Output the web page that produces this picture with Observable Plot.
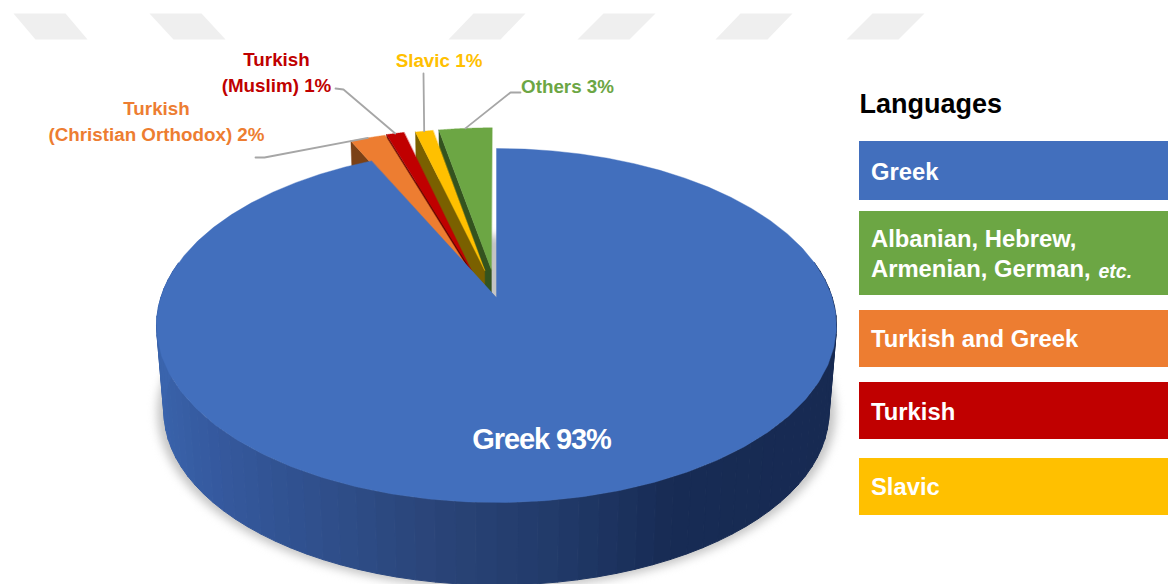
<!DOCTYPE html>
<html>
<head>
<meta charset="utf-8">
<script src="https://cdn.jsdelivr.net/npm/d3@7"></script>
<script src="https://cdn.jsdelivr.net/npm/@observablehq/plot@0.6"></script>
<style>
  html, body { margin: 0; padding: 0; background: #fff; }
  svg { display: block; }
  .hero-label text { letter-spacing: -1.1px; }
</style>
</head>
<body>
<div id="chart"></div>
<script>
// Communities and their share of the population
const sliceNames  = ["Greek", "Turkish (Christian Orthodox)", "Turkish (Muslim)", "Slavic", "Others"];
const sliceValues = [93, 2, 1, 1, 3];
const sliceFaces  = ["#426fbd", "#ed7d31", "#c00000", "#ffc000", "#6ca644"];
const sliceWalls  = ["#264478", "#7b4116", "#5e0000", "#7a6000", "#33531f"];
const sliceExplode = [0, 0.165, 0.165, 0.165, 0.165];
const sliceDrift   = [0, -0.02, -0.03, 0, 0];

// Callout text for the small slices
const calloutLines   = [["Turkish", "(Christian Orthodox) 2%"], ["Turkish", "(Muslim) 1%"], ["Slavic 1%"], ["Others 3%"]];
const calloutCenters = [156, 276, 438.5, 567];
const calloutBase    = [140, 91, 66, 92];
const leaderStart    = [[255, 157], [335, 88], [423, 73], [520, 92]];
const leaderElbow    = [[264, 157], [343, 89], [423, 74], [510, 92]];

// Legend
const legendTitle  = "Languages";
const legendLabels = [["Greek"], ["Albanian, Hebrew,", "Armenian, German,"], ["Turkish and Greek"], ["Turkish"], ["Slavic"]];
const legendColors = ["#426fbd", "#6ca644", "#ed7d31", "#c00000", "#ffc000"];
const legendTops    = [141, 211, 310, 382, 458];
const legendBottoms = [200, 295, 367, 439, 515];
const legendBases   = [[179], [246.5, 276], [346.5], [419], [494]];

// Faint page decoration along the top edge: left x of the lower side, lean
const stripeLefts = [35, 173, 448, 577, 715, 846];
const stripeLeans = [-22, -24, 25, 26, 25, 26];

// Perspective of the disc: unit circle to page pixels
const cx = 496, apexY = 297, a = 335.7, b = 172.6, k = 0.1582, depth = 87, baseScale = 0.978;
const top3d = (u, v) => { const w = 1 + k * v; return [cx + a * u / w, apexY - b * v / w]; };
const base3d = (u, v, s = baseScale) => { const w = 1 + k * v; return [cx + s * a * u / w, apexY + depth - s * b * v / w]; };

const arcs = d3.pie().sort(null).startAngle(0).endAngle(2 * Math.PI)(sliceValues);
const polar = (t, r = 1) => [r * Math.sin(t), r * Math.cos(t)];

const rows = [];
const addPoly = (id, points, fill) => points.forEach(([x, y]) => rows.push({id, x, y, fill}));

function wedgeGeometry(i) {
  const {startAngle: s, endAngle: e} = arcs[i];
  const [ex, ey] = polar((s + e) / 2, sliceExplode[i]);
  const ox = ex + sliceDrift[i], oy = ey;
  const rim = d3.range(0, 61).map(j => polar(s + (e - s) * j / 60)).map(([u, v]) => [u + ox, v + oy]);
  return {ox, oy, rim};
}

// Soft shadow under the disc
const shadowRows = d3.range(0, 181).map(j => polar(j * Math.PI / 90))
  .map(([u, v]) => base3d(u, v, baseScale * 1.02)).map(([x, y]) => ({x, y}));

// Curved outer wall of the large slice, shaded from left to right
const wallShade = d3.scaleLinear()
  .domain([-1, -0.75, -0.45, -0.15, 0.15, 0.45, 1])
  .range(["#3a64ad", "#35599e", "#2f4f8b", "#2a4478", "#213a69", "#172b54", "#172a52"]);
const wallRows = [];
const wallStep = 3;
d3.range(78, 282, wallStep).forEach(deg => {
  const t0 = deg * Math.PI / 180, t1 = (deg + wallStep) * Math.PI / 180;
  const [u0, v0] = polar(t0), [u1, v1] = polar(t1);
  const fill = wallShade((u0 + u1) / 2);
  [top3d(u0, v0), top3d(u1, v1), base3d(u1, v1), base3d(u0, v0)]
    .forEach(([x, y]) => wallRows.push({id: "w" + deg, x, y, fill}));
});

// Small slices, back to front: each one's left wall, then its face
[4, 3, 2, 1].forEach(i => {
  const {ox, oy, rim} = wedgeGeometry(i);
  const corner = rim[0];
  addPoly("wall" + i, [top3d(...corner), base3d(...corner), base3d(ox, oy), top3d(ox, oy)], sliceWalls[i]);
  addPoly("face" + i, [top3d(ox, oy), ...rim.map(p => top3d(...p))], sliceFaces[i]);
});

// Top of the large slice
{
  const {ox, oy, rim} = wedgeGeometry(0);
  addPoly("face0", [top3d(ox, oy), ...rim.map(p => top3d(...p))], sliceFaces[0]);
}

// Leader lines end at the middle of each small slice's rim
const leaderRows = [1, 2, 3, 4].flatMap((i, n) => {
  const {rim} = wedgeGeometry(i);
  const [x, y] = top3d(...rim[30]);
  return [leaderStart[n], leaderElbow[n], [x, y]].map(([px, py]) => ({id: n, x: px, y: py}));
});

const stripeRows = stripeLefts.flatMap((x0, i) => {
  const l = stripeLeans[i], w = 52;
  return [[x0, 39], [x0 + w, 39], [x0 + w + l, 13], [x0 + l, 13]].map(([x, y]) => ({id: i, x, y}));
});

const calloutRows = calloutLines.flatMap((lines, i) => lines.map((text, j) => ({
  text, x: calloutCenters[i], y: calloutBase[i] - (lines.length - 1 - j) * 26, fill: sliceFaces[i + 1]
})));

const legendTextRows = legendLabels.flatMap((lines, i) =>
  lines.map((text, j) => ({text, y: legendBases[i][j]})));

const font = "'Liberation Sans', Arial, sans-serif";

const chart = Plot.plot({
  width: 1168,
  height: 584,
  margin: 0,
  style: {background: "#fff", fontFamily: font, overflow: "hidden"},
  x: {domain: [0, 1168], range: [0, 1168], axis: null},
  y: {domain: [0, 584], range: [0, 584], axis: null},
  marks: [
    Plot.line(stripeRows, {x: "x", y: "y", z: "id", fill: "#efefef", stroke: "none", curve: "linear-closed"}),
    Plot.line(shadowRows, {x: "x", y: "y", fill: "#c4c4c4", stroke: "none", curve: "linear-closed", imageFilter: "blur(5px)"}),
    Plot.line(wallRows, {x: "x", y: "y", z: "id", fill: "fill", stroke: "fill", strokeWidth: 1, curve: "linear-closed"}),
    Plot.line(rows, {x: "x", y: "y", z: "id", fill: "fill", stroke: "fill", strokeWidth: 0.4, curve: "linear-closed"}),
    Plot.line(leaderRows, {x: "x", y: "y", z: "id", stroke: "#a6a6a6", strokeWidth: 1.8, curve: "linear"}),
    Plot.text(calloutRows, {x: "x", y: "y", text: "text", fill: "fill", fontSize: 18.8, fontWeight: 700, lineAnchor: "bottom"}),
    Plot.text(["Greek 93%"], {x: [541], y: [448.5], text: d => d, fill: "#fff", fontSize: 29, fontWeight: 700, lineAnchor: "bottom", className: "hero-label"}),
    Plot.text([legendTitle], {x: [859], y: [112], text: d => d, fill: "#000", fontSize: 27, fontWeight: 700, textAnchor: "start", lineAnchor: "bottom"}),
    Plot.rect(legendColors, {x1: 859, x2: 1168, y1: (d, i) => legendTops[i], y2: (d, i) => legendBottoms[i], fill: d => d}),
    Plot.text(legendTextRows, {x: 870.5, y: "y", text: "text", fill: "#fff", fontSize: 23.8, fontWeight: 700, textAnchor: "start", lineAnchor: "bottom"}),
    Plot.text(["etc."], {x: [1098], y: [277], text: d => d, fill: "#fff", fontSize: 19.5, fontWeight: 700, fontStyle: "italic", textAnchor: "start", lineAnchor: "bottom"})
  ]
});
document.getElementById("chart").append(chart);
</script>
</body>
</html>
